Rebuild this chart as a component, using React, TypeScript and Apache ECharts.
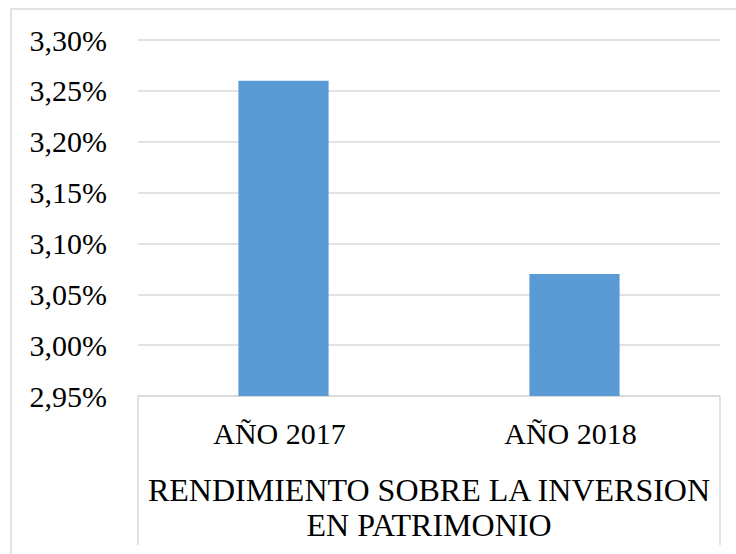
import React, { useEffect, useRef } from "react";
import * as echarts from "echarts";

const categories = ["AÑO 2017", "AÑO 2018"];
const values = [3.26, 3.07];
const yMin = 2.95;
const yMax = 3.3;
const yStep = 0.05;
const axisTitle = "RENDIMIENTO SOBRE LA INVERSION\nEN PATRIMONIO";

export default function App() {
  const ref = useRef<HTMLDivElement>(null);
  useEffect(() => {
    if (!ref.current) return;
    const chart = echarts.init(ref.current, undefined, { renderer: "svg" });
    const font = "Liberation Serif";
    const gridLeft = 138;
    const gridRight = 16;
    const gridTop = 40;
    const gridBottom = 158;
    const W = 736;
    const H = 554;
    chart.setOption({
      animation: false,
      backgroundColor: "#ffffff",
      textStyle: { fontFamily: font },
      grid: { left: gridLeft, right: gridRight, top: gridTop, bottom: gridBottom, containLabel: false },
      xAxis: {
        type: "category",
        data: categories,
        axisLine: { show: true, lineStyle: { color: "#D9D9D9", width: 1.5 } },
        axisTick: { show: false },
        axisLabel: { color: "#000", fontFamily: font, fontSize: 30, margin: 22, padding: [0, 8, 0, 0] },
        name: axisTitle,
        nameLocation: "middle",
        nameGap: 76,
        nameTextStyle: { color: "#000", fontFamily: font, fontSize: 32, lineHeight: 35, align: "center", verticalAlign: "top" },
      },
      yAxis: {
        type: "value",
        min: yMin,
        max: yMax,
        interval: yStep,
        axisLine: { show: false },
        axisTick: { show: false },
        splitLine: { show: true, lineStyle: { color: "#D9D9D9", width: 1.5 } },
        axisLabel: {
          color: "#000",
          fontFamily: font,
          fontSize: 30,
          margin: 31,
          formatter: (v: number) => v.toFixed(2).replace(".", ",") + "%",
        },
      },
      series: [
        {
          type: "bar",
          data: values,
          barCategoryGap: "69%",
          itemStyle: { color: "#5B9BD5" },
        },
      ],
      graphic: [
        {
          type: "rect",
          shape: { x: 11, y: 9, width: 900, height: 700 },
          style: { fill: "none", stroke: "#D9D9D9", lineWidth: 1.5 },
          silent: true,
        },
        {
          type: "line",
          shape: { x1: gridLeft, y1: H - gridBottom, x2: gridLeft, y2: 545 },
          style: { stroke: "#D9D9D9", lineWidth: 1.5 },
          silent: true,
        },
        {
          type: "line",
          shape: { x1: W - gridRight, y1: H - gridBottom, x2: W - gridRight, y2: 545 },
          style: { stroke: "#D9D9D9", lineWidth: 1.5 },
          silent: true,
        },
      ],
    });
    return () => chart.dispose();
  }, []);
  return (
    <div
      ref={ref}
      style={{ position: "absolute", left: 0, top: 0, width: 736, height: 554 }}
    />
  );
}
